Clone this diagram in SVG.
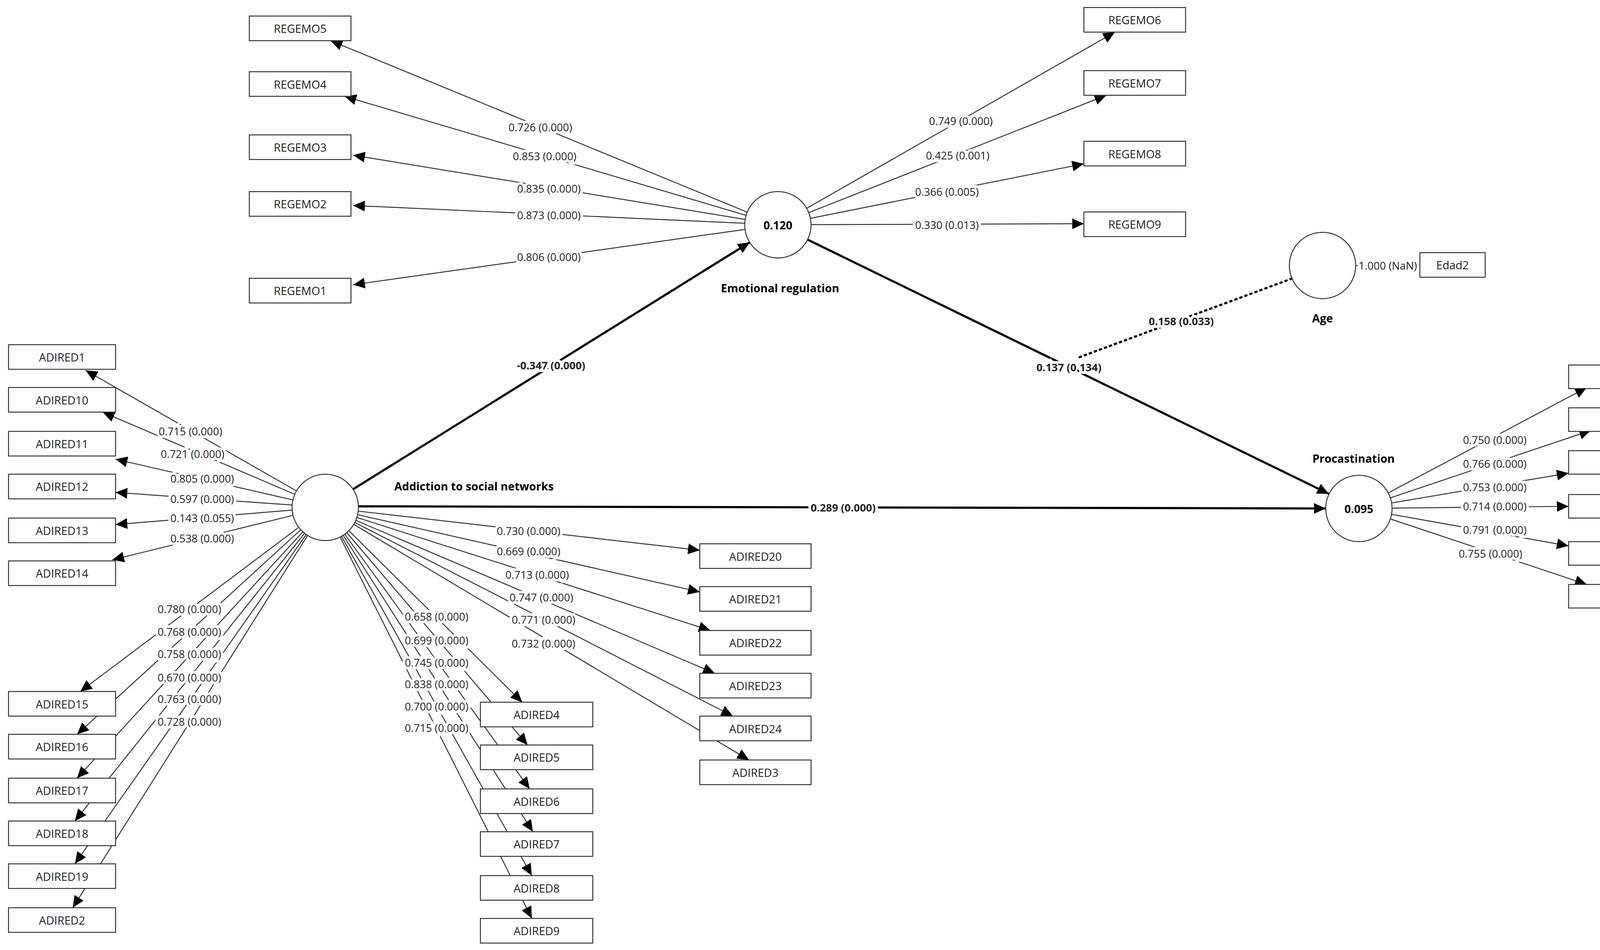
<svg xmlns="http://www.w3.org/2000/svg" width="4295" height="2431" viewBox="0 0 4295 2431">
<style>
.b{fill:#fff;stroke:#333;stroke-width:0.9}
.c{fill:#fff;stroke:#333;stroke-width:0.9}
.t{font-family:"Open Sans","Liberation Sans",sans-serif;font-size:10.5px;fill:#222;text-anchor:middle;dominant-baseline:central}
.bt{font-weight:bold;fill:#000}
.l{stroke:#333;stroke-width:0.9;fill:none;marker-end:url(#a)}
.s{stroke:#000;stroke-width:2;fill:none;marker-end:url(#A)}
.lb{font-family:"Open Sans","Liberation Sans",sans-serif;font-size:10px;fill:#222;text-anchor:middle;dominant-baseline:central;paint-order:stroke;stroke:#fff;stroke-width:5px}
</style>
<defs>
<marker id="a" markerUnits="userSpaceOnUse" markerWidth="12" markerHeight="10" refX="11" refY="5" orient="auto"><path d="M0,0 L11,5 L0,10 Z" fill="#000"/></marker>
<marker id="A" markerUnits="userSpaceOnUse" markerWidth="12" markerHeight="10" refX="11" refY="5" orient="auto"><path d="M0,0 L11,5 L0,10 Z" fill="#000"/></marker>
</defs>
<rect width="4295" height="2431" fill="#fff"/>
<g transform="scale(2.7392)">
<g id="connectors">
<line class="l" x1="727" y1="210" x2="309" y2="38"/>
<line class="l" x1="727" y1="210" x2="322" y2="90"/>
<line class="l" x1="727" y1="210" x2="330" y2="145"/>
<line class="l" x1="727" y1="210" x2="330" y2="192"/>
<line class="l" x1="727" y1="210" x2="330" y2="266"/>
<line class="l" x1="727" y1="210" x2="1042" y2="30"/>
<line class="l" x1="727" y1="210" x2="1034" y2="89"/>
<line class="l" x1="727" y1="210" x2="1013" y2="153"/>
<line class="l" x1="727" y1="210" x2="1013" y2="209"/>
<line class="l" x1="1236" y1="248" x2="1327" y2="248"/>
<line class="l" x1="1270" y1="475" x2="1483" y2="362"/>
<line class="l" x1="1270" y1="475" x2="1487" y2="402"/>
<line class="l" x1="1270" y1="475" x2="1466" y2="442"/>
<line class="l" x1="1270" y1="475" x2="1466" y2="473"/>
<line class="l" x1="1270" y1="475" x2="1466" y2="510"/>
<line class="l" x1="1270" y1="475" x2="1483" y2="546"/>
<line class="l" x1="304" y1="474" x2="80" y2="346"/>
<line class="l" x1="304" y1="474" x2="96" y2="385"/>
<line class="l" x1="304" y1="474" x2="108" y2="429"/>
<line class="l" x1="304" y1="474" x2="108" y2="460"/>
<line class="l" x1="304" y1="474" x2="108" y2="490"/>
<line class="l" x1="304" y1="474" x2="105" y2="523"/>
<line class="l" x1="304" y1="474" x2="75" y2="646"/>
<line class="l" x1="304" y1="474" x2="72" y2="686"/>
<line class="l" x1="304" y1="474" x2="72" y2="727"/>
<line class="l" x1="304" y1="474" x2="70" y2="767"/>
<line class="l" x1="304" y1="474" x2="70" y2="807"/>
<line class="l" x1="304" y1="474" x2="68" y2="848"/>
<line class="l" x1="304" y1="474" x2="488" y2="656"/>
<line class="l" x1="304" y1="474" x2="493" y2="696"/>
<line class="l" x1="304" y1="474" x2="495" y2="737"/>
<line class="l" x1="304" y1="474" x2="498" y2="777"/>
<line class="l" x1="304" y1="474" x2="497" y2="818"/>
<line class="l" x1="304" y1="474" x2="497" y2="858"/>
<line class="l" x1="304" y1="474" x2="654" y2="514"/>
<line class="l" x1="304" y1="474" x2="654" y2="553"/>
<line class="l" x1="304" y1="474" x2="664" y2="589"/>
<line class="l" x1="304" y1="474" x2="668" y2="629"/>
<line class="l" x1="304" y1="474" x2="685" y2="669"/>
<line class="l" x1="304" y1="474" x2="700" y2="710"/>
<line class="s" x1="330" y1="457" x2="700.7" y2="226.4"/>
<line class="s" x1="755" y1="224" x2="1242" y2="461.4"/>
<line class="s" x1="335" y1="473" x2="1239" y2="475"/>
<line x1="1208" y1="260" x2="1008" y2="334" stroke="#000" stroke-width="2" stroke-dasharray="3,2"/>
</g>
<g id="labels">
<text class="lb" x="505" y="119">0.726 (0.000)</text>
<text class="lb" x="509" y="146">0.853 (0.000)</text>
<text class="lb" x="513" y="176">0.835 (0.000)</text>
<text class="lb" x="513" y="201">0.873 (0.000)</text>
<text class="lb" x="513" y="240">0.806 (0.000)</text>
<text class="lb" x="898" y="113">0.749 (0.000)</text>
<text class="lb" x="895" y="145">0.425 (0.001)</text>
<text class="lb" x="885" y="179">0.366 (0.005)</text>
<text class="lb" x="885" y="210">0.330 (0.013)</text>
<text class="lb" x="1297" y="248">1.000 (NaN)</text>
<text class="lb" x="1397" y="411">0.750 (0.000)</text>
<text class="lb" x="1397" y="433">0.766 (0.000)</text>
<text class="lb" x="1397" y="455">0.753 (0.000)</text>
<text class="lb" x="1397" y="473">0.714 (0.000)</text>
<text class="lb" x="1397" y="495">0.791 (0.000)</text>
<text class="lb" x="1393" y="517">0.755 (0.000)</text>
<text class="lb" x="178" y="403">0.715 (0.000)</text>
<text class="lb" x="180" y="424">0.721 (0.000)</text>
<text class="lb" x="189" y="447">0.805 (0.000)</text>
<text class="lb" x="189" y="466">0.597 (0.000)</text>
<text class="lb" x="189" y="484">0.143 (0.055)</text>
<text class="lb" x="189" y="503">0.538 (0.000)</text>
<text class="lb" x="177" y="569">0.780 (0.000)</text>
<text class="lb" x="177" y="590">0.768 (0.000)</text>
<text class="lb" x="177" y="611">0.758 (0.000)</text>
<text class="lb" x="177" y="633">0.670 (0.000)</text>
<text class="lb" x="177" y="653">0.763 (0.000)</text>
<text class="lb" x="177" y="674">0.728 (0.000)</text>
<text class="lb" x="408" y="576">0.658 (0.000)</text>
<text class="lb" x="408" y="598">0.699 (0.000)</text>
<text class="lb" x="408" y="619">0.745 (0.000)</text>
<text class="lb" x="408" y="639">0.838 (0.000)</text>
<text class="lb" x="408" y="660">0.700 (0.000)</text>
<text class="lb" x="408" y="680">0.715 (0.000)</text>
<text class="lb" x="494" y="496">0.730 (0.000)</text>
<text class="lb" x="494" y="515">0.669 (0.000)</text>
<text class="lb" x="502" y="537">0.713 (0.000)</text>
<text class="lb" x="506" y="558">0.747 (0.000)</text>
<text class="lb" x="508" y="579">0.771 (0.000)</text>
<text class="lb" x="508" y="601">0.732 (0.000)</text>
<text class="lb bt" x="515" y="341">-0.347 (0.000)</text>
<text class="lb bt" x="999" y="343">0.137 (0.134)</text>
<text class="lb bt" x="788" y="474">0.289 (0.000)</text>
<text class="lb bt" x="1104" y="300">0.158 (0.033)</text>
</g>
<g id="ASN"><circle class="c" cx="304" cy="474" r="31"/><text class="t bt" x="443" y="454">Addiction to social networks</text></g>
<g id="ER"><circle class="c" cx="727" cy="210" r="31"/><text class="t bt" x="727" y="210">0.120</text><text class="t bt" x="729" y="269">Emotional regulation</text></g>
<g id="PROC"><circle class="c" cx="1270" cy="475" r="31"/><text class="t bt" x="1270" y="475">0.095</text><text class="t bt" x="1265" y="428">Procastination</text></g>
<g id="AGE"><circle class="c" cx="1236" cy="248" r="31"/><text class="t bt" x="1236" y="297">Age</text></g>
<g id="REGEMO5"><rect class="b" x="233" y="15" width="95" height="23"/><text class="t" x="280.5" y="26.5">REGEMO5</text></g>
<g id="REGEMO4"><rect class="b" x="233" y="67" width="95" height="23"/><text class="t" x="280.5" y="78.5">REGEMO4</text></g>
<g id="REGEMO3"><rect class="b" x="233" y="126" width="95" height="23"/><text class="t" x="280.5" y="137.5">REGEMO3</text></g>
<g id="REGEMO2"><rect class="b" x="233" y="179" width="95" height="23"/><text class="t" x="280.5" y="190.5">REGEMO2</text></g>
<g id="REGEMO1"><rect class="b" x="233" y="260" width="95" height="23"/><text class="t" x="280.5" y="271.5">REGEMO1</text></g>
<g id="REGEMO6"><rect class="b" x="1013" y="7" width="95" height="23"/><text class="t" x="1060.5" y="18.5">REGEMO6</text></g>
<g id="REGEMO7"><rect class="b" x="1013" y="66" width="95" height="23"/><text class="t" x="1060.5" y="77.5">REGEMO7</text></g>
<g id="REGEMO8"><rect class="b" x="1013" y="132" width="95" height="23"/><text class="t" x="1060.5" y="143.5">REGEMO8</text></g>
<g id="REGEMO9"><rect class="b" x="1013" y="198" width="95" height="23"/><text class="t" x="1060.5" y="209.5">REGEMO9</text></g>
<g id="Edad2"><rect class="b" x="1327" y="236" width="61" height="23"/><text class="t" x="1357.5" y="247.5">Edad2</text></g>
<g id="PROC1"><rect class="b" x="1466" y="341" width="95" height="22"/><text class="t" x="1513.5" y="352">PROC1</text></g>
<g id="PROC2"><rect class="b" x="1466" y="381" width="95" height="22"/><text class="t" x="1513.5" y="392">PROC2</text></g>
<g id="PROC3"><rect class="b" x="1466" y="421" width="95" height="22"/><text class="t" x="1513.5" y="432">PROC3</text></g>
<g id="PROC4"><rect class="b" x="1466" y="462" width="95" height="22"/><text class="t" x="1513.5" y="473">PROC4</text></g>
<g id="PROC6"><rect class="b" x="1466" y="506" width="95" height="22"/><text class="t" x="1513.5" y="517">PROC6</text></g>
<g id="PROC7"><rect class="b" x="1466" y="546" width="95" height="22"/><text class="t" x="1513.5" y="557">PROC7</text></g>
<g id="ADIRED1"><rect class="b" x="8" y="322" width="100" height="23"/><text class="t" x="58" y="333.5">ADIRED1</text></g>
<g id="ADIRED10"><rect class="b" x="8" y="362" width="100" height="23"/><text class="t" x="58" y="373.5">ADIRED10</text></g>
<g id="ADIRED11"><rect class="b" x="8" y="403" width="100" height="23"/><text class="t" x="58" y="414.5">ADIRED11</text></g>
<g id="ADIRED12"><rect class="b" x="8" y="443" width="100" height="23"/><text class="t" x="58" y="454.5">ADIRED12</text></g>
<g id="ADIRED13"><rect class="b" x="8" y="484" width="100" height="23"/><text class="t" x="58" y="495.5">ADIRED13</text></g>
<g id="ADIRED14"><rect class="b" x="8" y="524" width="100" height="23"/><text class="t" x="58" y="535.5">ADIRED14</text></g>
<g id="ADIRED15"><rect class="b" x="8" y="646" width="100" height="23"/><text class="t" x="58" y="657.5">ADIRED15</text></g>
<g id="ADIRED16"><rect class="b" x="8" y="686" width="100" height="23"/><text class="t" x="58" y="697.5">ADIRED16</text></g>
<g id="ADIRED17"><rect class="b" x="8" y="727" width="100" height="23"/><text class="t" x="58" y="738.5">ADIRED17</text></g>
<g id="ADIRED18"><rect class="b" x="8" y="767" width="100" height="23"/><text class="t" x="58" y="778.5">ADIRED18</text></g>
<g id="ADIRED19"><rect class="b" x="8" y="807" width="100" height="23"/><text class="t" x="58" y="818.5">ADIRED19</text></g>
<g id="ADIRED2"><rect class="b" x="8" y="848" width="100" height="23"/><text class="t" x="58" y="859.5">ADIRED2</text></g>
<g id="ADIRED4"><rect class="b" x="449" y="656" width="105" height="23"/><text class="t" x="501.5" y="667.5">ADIRED4</text></g>
<g id="ADIRED5"><rect class="b" x="449" y="696" width="105" height="23"/><text class="t" x="501.5" y="707.5">ADIRED5</text></g>
<g id="ADIRED6"><rect class="b" x="449" y="737" width="105" height="23"/><text class="t" x="501.5" y="748.5">ADIRED6</text></g>
<g id="ADIRED7"><rect class="b" x="449" y="777" width="105" height="23"/><text class="t" x="501.5" y="788.5">ADIRED7</text></g>
<g id="ADIRED8"><rect class="b" x="449" y="818" width="105" height="23"/><text class="t" x="501.5" y="829.5">ADIRED8</text></g>
<g id="ADIRED9"><rect class="b" x="449" y="858" width="105" height="23"/><text class="t" x="501.5" y="869.5">ADIRED9</text></g>
<g id="ADIRED20"><rect class="b" x="654" y="508" width="104" height="23"/><text class="t" x="706" y="519.5">ADIRED20</text></g>
<g id="ADIRED21"><rect class="b" x="654" y="548" width="104" height="23"/><text class="t" x="706" y="559.5">ADIRED21</text></g>
<g id="ADIRED22"><rect class="b" x="654" y="589" width="104" height="23"/><text class="t" x="706" y="600.5">ADIRED22</text></g>
<g id="ADIRED23"><rect class="b" x="654" y="629" width="104" height="23"/><text class="t" x="706" y="640.5">ADIRED23</text></g>
<g id="ADIRED24"><rect class="b" x="654" y="669" width="104" height="23"/><text class="t" x="706" y="680.5">ADIRED24</text></g>
<g id="ADIRED3"><rect class="b" x="654" y="710" width="104" height="23"/><text class="t" x="706" y="721.5">ADIRED3</text></g>
</g>
</svg>
